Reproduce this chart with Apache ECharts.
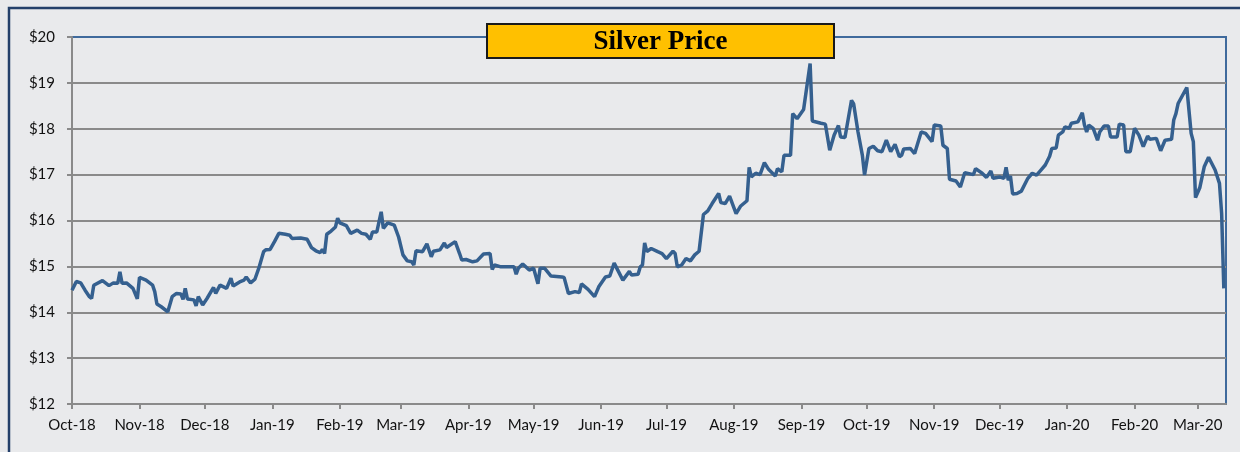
<!DOCTYPE html>
<html>
<head>
<meta charset="utf-8">
<script src="https://cdn.jsdelivr.net/npm/echarts@6/dist/echarts.min.js"></script>
<style>
  html, body { margin: 0; padding: 0; background: #e9eaec; }
  #chart { width: 1240px; height: 452px; }
</style>
</head>
<body>
<div id="chart"></div>
<script>
const axisStart = '2018-10-01';
const axisEnd = '2020-03-14';

const tickDates = ['2018-10-01','2018-11-01','2018-12-01','2019-01-01','2019-02-01','2019-03-01',
  '2019-04-01','2019-05-01','2019-06-01','2019-07-01','2019-08-01','2019-09-01','2019-10-01',
  '2019-11-01','2019-12-01','2020-01-01','2020-02-01','2020-03-01'];
const tickLabels = ['Oct-18','Nov-18','Dec-18','Jan-19','Feb-19','Mar-19','Apr-19','May-19','Jun-19',
  'Jul-19','Aug-19','Sep-19','Oct-19','Nov-19','Dec-19','Jan-20','Feb-20','Mar-20'];

const yMin = 12, yMax = 20, yStep = 1;

const dates = [
'2018-10-01','2018-10-03','2018-10-05','2018-10-07','2018-10-09','2018-10-10','2018-10-11','2018-10-15','2018-10-18','2018-10-20',
'2018-10-22','2018-10-23','2018-10-24','2018-10-26','2018-10-29','2018-10-31','2018-11-01','2018-11-04','2018-11-07','2018-11-08',
'2018-11-09','2018-11-11','2018-11-14','2018-11-16','2018-11-18','2018-11-20','2018-11-21','2018-11-22','2018-11-23','2018-11-26',
'2018-11-27','2018-11-28','2018-11-30','2018-12-02','2018-12-05','2018-12-06','2018-12-08','2018-12-11','2018-12-13','2018-12-14',
'2018-12-17','2018-12-19','2018-12-20','2018-12-22','2018-12-24','2018-12-26','2018-12-28','2018-12-29','2018-12-31','2019-01-02',
'2019-01-04','2019-01-07','2019-01-09','2019-01-10','2019-01-14','2019-01-17','2019-01-19','2019-01-21','2019-01-23','2019-01-24',
'2019-01-25','2019-01-26','2019-01-28','2019-01-30','2019-01-31','2019-02-01','2019-02-04','2019-02-06','2019-02-09','2019-02-11',
'2019-02-13','2019-02-15','2019-02-16','2019-02-18','2019-02-20','2019-02-21','2019-02-23','2019-02-26','2019-02-28','2019-03-02',
'2019-03-04','2019-03-06','2019-03-07','2019-03-08','2019-03-11','2019-03-13','2019-03-15','2019-03-16','2019-03-19','2019-03-21',
'2019-03-22','2019-03-26','2019-03-28','2019-03-29','2019-03-31','2019-04-03','2019-04-05','2019-04-08','2019-04-11','2019-04-12',
'2019-04-13','2019-04-16','2019-04-22','2019-04-23','2019-04-24','2019-04-26','2019-04-29','2019-05-01','2019-05-03','2019-05-04',
'2019-05-06','2019-05-09','2019-05-14','2019-05-15','2019-05-17','2019-05-20','2019-05-22','2019-05-23','2019-05-26','2019-05-29',
'2019-05-31','2019-06-03','2019-06-05','2019-06-07','2019-06-11','2019-06-14','2019-06-15','2019-06-18','2019-06-19','2019-06-20',
'2019-06-21','2019-06-22','2019-06-24','2019-06-27','2019-06-29','2019-07-01','2019-07-04','2019-07-05','2019-07-06','2019-07-08',
'2019-07-10','2019-07-12','2019-07-14','2019-07-16','2019-07-18','2019-07-20','2019-07-22','2019-07-25','2019-07-26','2019-07-28',
'2019-07-30','2019-08-02','2019-08-04','2019-08-07','2019-08-08','2019-08-09','2019-08-11','2019-08-13','2019-08-15','2019-08-17',
'2019-08-20','2019-08-21','2019-08-23','2019-08-24','2019-08-27','2019-08-28','2019-08-30','2019-09-02','2019-09-05','2019-09-06',
'2019-09-10','2019-09-12','2019-09-14','2019-09-16','2019-09-18','2019-09-19','2019-09-21','2019-09-24','2019-09-25','2019-09-27',
'2019-09-29','2019-09-30','2019-10-02','2019-10-04','2019-10-06','2019-10-08','2019-10-10','2019-10-12','2019-10-14','2019-10-16',
'2019-10-17','2019-10-18','2019-10-21','2019-10-23','2019-10-26','2019-10-28','2019-10-31','2019-11-01','2019-11-04','2019-11-05',
'2019-11-07','2019-11-08','2019-11-11','2019-11-13','2019-11-15','2019-11-19','2019-11-20','2019-11-23','2019-11-25','2019-11-27',
'2019-11-28','2019-12-01','2019-12-03','2019-12-04','2019-12-05','2019-12-06','2019-12-07','2019-12-09','2019-12-11','2019-12-14',
'2019-12-16','2019-12-18','2019-12-20','2019-12-22','2019-12-24','2019-12-25','2019-12-27','2019-12-28','2019-12-30','2019-12-31',
'2020-01-02','2020-01-03','2020-01-06','2020-01-08','2020-01-09','2020-01-10','2020-01-11','2020-01-13','2020-01-15','2020-01-16',
'2020-01-18','2020-01-20','2020-01-21','2020-01-24','2020-01-25','2020-01-27','2020-01-28','2020-01-30','2020-02-01','2020-02-03',
'2020-02-05','2020-02-07','2020-02-08','2020-02-11','2020-02-13','2020-02-15','2020-02-18','2020-02-19','2020-02-20','2020-02-21',
'2020-02-25','2020-02-27','2020-02-28','2020-02-29','2020-03-02','2020-03-04','2020-03-06','2020-03-09','2020-03-11','2020-03-12',
'2020-03-13'
];

const prices = [
14.48,14.67,14.64,14.48,14.34,14.30,14.59,14.69,14.58,14.64,
14.63,14.88,14.63,14.64,14.52,14.29,14.76,14.70,14.59,14.45,
14.18,14.12,14.01,14.34,14.41,14.40,14.28,14.52,14.29,14.27,
14.14,14.34,14.16,14.30,14.54,14.41,14.59,14.52,14.74,14.57,
14.66,14.70,14.77,14.64,14.72,14.99,15.32,15.36,15.37,15.54,
15.72,15.70,15.68,15.61,15.62,15.59,15.41,15.34,15.30,15.37,
15.28,15.70,15.77,15.86,16.05,15.95,15.89,15.72,15.79,15.72,
15.70,15.59,15.75,15.75,16.19,15.83,15.95,15.90,15.64,15.25,
15.12,15.10,15.03,15.34,15.32,15.49,15.21,15.33,15.36,15.51,
15.41,15.54,15.28,15.14,15.15,15.10,15.12,15.27,15.28,14.93,
15.03,14.99,14.99,14.83,14.96,15.05,14.92,14.96,14.62,14.96,
14.96,14.79,14.77,14.76,14.41,14.45,14.43,14.62,14.50,14.34,
14.56,14.77,14.79,15.07,14.70,14.89,14.81,14.83,14.99,15.03,
15.51,15.32,15.39,15.32,15.28,15.17,15.33,15.28,14.99,15.03,
15.17,15.12,15.25,15.33,16.13,16.21,16.37,16.59,16.39,16.37,
16.53,16.15,16.31,16.43,17.16,16.95,17.03,17.00,17.26,17.11,
16.97,17.13,17.06,17.42,17.42,18.33,18.22,18.42,19.42,18.17,
18.12,18.10,17.53,17.86,18.07,17.82,17.81,18.62,18.54,17.93,
17.42,16.99,17.57,17.62,17.52,17.50,17.75,17.50,17.66,17.39,
17.42,17.56,17.57,17.46,17.93,17.90,17.72,18.08,18.06,17.64,
17.57,16.90,16.86,16.73,17.04,17.00,17.13,17.03,16.94,17.08,
16.92,16.95,16.92,17.16,16.88,16.97,16.58,16.59,16.64,16.92,
17.03,16.99,17.10,17.21,17.40,17.57,17.58,17.86,17.93,18.04,
18.01,18.12,18.15,18.35,18.08,17.93,18.08,18.01,17.75,17.93,
18.06,18.06,17.82,17.82,18.10,18.08,17.50,17.50,18.01,17.86,
17.61,17.84,17.77,17.79,17.52,17.75,17.77,18.19,18.33,18.55,
18.90,17.90,17.72,16.50,16.72,17.17,17.38,17.10,16.81,16.15,
14.52
];

function dayOffset(s) {
  return (Date.parse(s + 'T00:00:00Z') - Date.parse(axisStart + 'T00:00:00Z')) / 86400000;
}
const tickOffsets = tickDates.map(dayOffset);
const seriesData = dates.map((d, i) => [dayOffset(d), prices[i]]);

const gray = '#8a8a8a';
const chart = echarts.init(document.getElementById('chart'), null, { renderer: 'canvas' });
chart.setOption({
  backgroundColor: '#e9eaec',
  animation: false,
  grid: {
    left: 72, right: 14, top: 37, bottom: 48,
    show: true, borderColor: '#3f6a9c', borderWidth: 2, backgroundColor: 'transparent'
  },
  xAxis: {
    type: 'value',
    min: 0,
    max: dayOffset(axisEnd),
    axisLine: { show: true, lineStyle: { color: gray, width: 2 } },
    axisTick: { show: true, customValues: tickOffsets, length: 5, lineStyle: { color: gray, width: 2 } },
    axisLabel: {
      customValues: tickOffsets,
      formatter: function (v) { const i = tickOffsets.indexOf(v); return i >= 0 ? tickLabels[i] : ''; },
      color: '#111', fontFamily: 'Lato', fontSize: 15, margin: 14
    },
    splitLine: { show: false }
  },
  yAxis: {
    type: 'value',
    min: yMin, max: yMax, interval: yStep,
    axisLine: { show: true, lineStyle: { color: gray, width: 2 } },
    axisTick: { show: true, length: 5, lineStyle: { color: gray, width: 2 } },
    axisLabel: {
      formatter: '${value}', color: '#111', fontFamily: 'Lato', fontSize: 15, margin: 17
    },
    splitLine: { show: true, showMaxLine: false, lineStyle: { color: gray, width: 2 } }
  },
  series: [{
    type: 'line',
    data: seriesData,
    showSymbol: false,
    smooth: false,
    lineStyle: { color: '#35608f', width: 3.5 },
    z: 5
  }],
  graphic: [
    {
      type: 'rect', z: 1, silent: true,
      shape: { x: 9, y: 8, width: 1260, height: 470 },
      style: { fill: 'none', stroke: '#24406a', lineWidth: 2.5 }
    },
    {
      type: 'rect', z: 100, silent: true,
      shape: { x: 487, y: 24, width: 347, height: 34 },
      style: { fill: '#FFC000', stroke: '#1a1a1a', lineWidth: 2 }
    },
    {
      type: 'text', z: 101, silent: true,
      x: 660.5, y: 42,
      style: { text: 'Silver Price', fill: '#000', font: 'bold 27px "Liberation Serif"',
               align: 'center', verticalAlign: 'middle' }
    }
  ]
});
</script>
</body>
</html>
